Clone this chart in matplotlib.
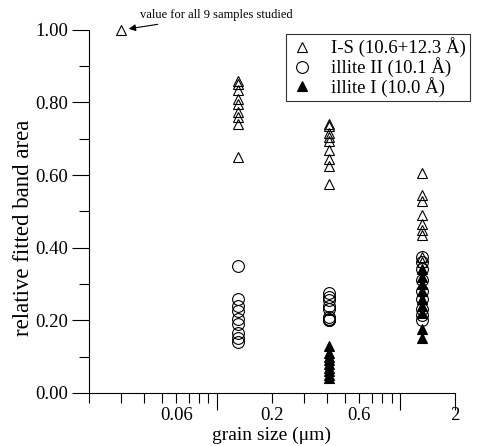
import matplotlib
matplotlib.use("Agg")
import matplotlib.pyplot as plt
from matplotlib.ticker import FixedLocator, NullFormatter, LogLocator

plt.rcParams['font.family'] = ['Liberation Serif', 'DejaVu Serif']

# grain size classes (um)
size_all = [0.03]
is_all = [1.00]

size_cls = [0.13, 0.41, 1.32]

# I-S (10.6+12.3 A), 9 samples per class
is_013 = [0.86, 0.85, 0.835, 0.81, 0.795, 0.775, 0.76, 0.74, 0.65]
is_040 = [0.74, 0.735, 0.715, 0.705, 0.695, 0.67, 0.645, 0.625, 0.575]
is_130 = [0.605, 0.545, 0.53, 0.49, 0.465, 0.45, 0.435, 0.375, 0.36]

# illite II (10.1 A)
ii_013 = [0.14, 0.15, 0.165, 0.19, 0.205, 0.225, 0.24, 0.26, 0.35]
ii_040 = [0.275, 0.265, 0.255, 0.24, 0.23, 0.21, 0.205, 0.20, 0.20]
ii_130 = [0.375, 0.36, 0.34, 0.31, 0.28, 0.26, 0.23, 0.215, 0.20]

# illite I (10.0 A)
i_040 = [0.13, 0.11, 0.10, 0.09, 0.08, 0.07, 0.06, 0.05, 0.04]
i_130 = [0.34, 0.32, 0.30, 0.28, 0.26, 0.24, 0.22, 0.175, 0.15]

fig = plt.figure(figsize=(4.78, 4.46), dpi=100)
ax = fig.add_axes([0.186, 0.119, 0.766, 0.814])

ms = 7.8
ax.plot(size_all, is_all, ls='none', marker='^', ms=ms, mfc='white', mec='black', mew=0.8,
        clip_on=False)
ax.plot([size_cls[0]] * len(is_013) + [size_cls[1]] * len(is_040) + [size_cls[2]] * len(is_130),
        is_013 + is_040 + is_130, ls='none', marker='^', ms=ms, mfc='none', mec='black', mew=0.8,
        label='I-S (10.6+12.3 Å)')
ax.plot([size_cls[0]] * len(ii_013) + [size_cls[1]] * len(ii_040) + [size_cls[2]] * len(ii_130),
        ii_013 + ii_040 + ii_130, ls='none', marker='o', ms=8.5, mfc='none', mec='black', mew=0.8,
        label='illite II (10.1 Å)')
ax.plot([size_cls[1]] * len(i_040) + [size_cls[2]] * len(i_130),
        i_040 + i_130, ls='none', marker='^', ms=ms, mfc='black', mec='black', mew=0.8,
        label='illite I (10.0 Å)')

ax.set_xscale('log')
ax.set_xlim(0.02, 2)
ax.set_ylim(0, 1)

ax.xaxis.set_major_locator(FixedLocator([0.1, 1, 2]))
ax.xaxis.set_major_formatter(NullFormatter())
ax.xaxis.set_minor_locator(LogLocator(base=10, subs=range(2, 10)))
ax.xaxis.set_minor_formatter(NullFormatter())
for v, s in [(0.06, '0.06'), (0.2, '0.2'), (0.6, '0.6'), (2, '2')]:
    ax.text(v, -0.038, s, transform=ax.get_xaxis_transform(), ha='center', va='top', fontsize=13.5)

ax.set_yticks([0, 0.2, 0.4, 0.6, 0.8, 1.0])
ax.set_yticklabels(['0.00', '0.20', '0.40', '0.60', '0.80', '1.00'], fontsize=13.5)
ax.set_yticks([0.1, 0.3, 0.5, 0.7, 0.9], minor=True)

ax.tick_params(which='major', direction='out', length=12, width=0.8)
ax.tick_params(which='minor', direction='out', length=7, width=0.8)
ax.tick_params(axis='y', which='major', pad=3)
ax.spines['top'].set_visible(False)
ax.spines['right'].set_visible(False)

ax.set_xlabel('grain size (μm)', fontsize=14)
ax.xaxis.set_label_coords(0.5, -0.094)
ax.set_ylabel('relative fitted band area', fontsize=16.5)
ax.yaxis.set_label_coords(-0.15, 0.455)

ax.annotate('value for all 9 samples studied', xy=(0.033, 1.003), xytext=(0.038, 1.04),
            fontsize=9, ha='left', va='center', annotation_clip=False,
            arrowprops=dict(arrowstyle='-|>', color='black', lw=0.8, mutation_scale=10,
                            shrinkA=1, shrinkB=0))

leg = ax.legend(loc='upper right', bbox_to_anchor=(1.041, 0.99), fontsize=13.5, frameon=True,
                fancybox=False, edgecolor='black', handletextpad=0.9, borderpad=0.2,
                labelspacing=0.0, handlelength=1.3, borderaxespad=0)
leg.get_frame().set_linewidth(0.8)

fig.savefig('out.png', dpi=100)
